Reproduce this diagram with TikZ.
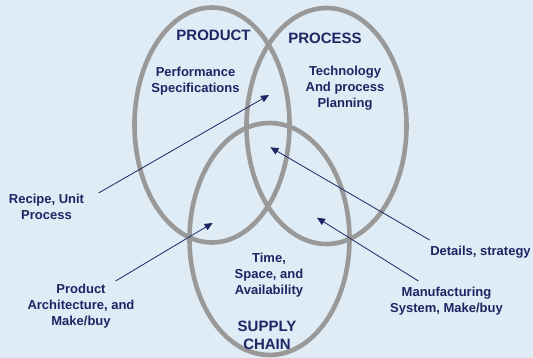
\documentclass[tikz,border=0pt]{standalone}
\usepackage{fontspec}
\setmainfont{Liberation Sans}
\usetikzlibrary{shapes.geometric,arrows.meta}
\definecolor{navy}{RGB}{27,38,99}
\definecolor{ringgray}{RGB}{153,153,153}
\definecolor{bgblue}{RGB}{223,235,245}
\tikzset{ring/.style={ellipse,draw=ringgray,line width=4.6pt,inner sep=0pt},
  lab/.style={text=navy,font=\bfseries\fontsize{13}{16}\selectfont,align=center,inner sep=0pt},
  title/.style={text=navy,font=\bfseries\fontsize{15}{18}\selectfont,align=center,inner sep=0pt},
  arr/.style={draw=navy,line width=0.8pt,-{Triangle[length=8pt,width=7pt]}}}
\begin{document}
\begin{tikzpicture}[x=1pt,y=-1pt]
\fill[bgblue](0,0)rectangle(533,358);
\useasboundingbox(0,0)rectangle(533,358);
% the three circles
\node[ring,minimum width=155pt,minimum height=235pt](product)at(212,125){};
\node[ring,minimum width=160pt,minimum height=236pt](process)at(326.5,126){};
\node[ring,minimum width=160pt,minimum height=232pt](supply)at(269.5,239){};
% titles and contents
\node[title](producttitle)at(213.5,35){PRODUCT};
\node[title](processtitle)at(325,38.5){PROCESS};
\node[title](supplytitle)at(267,335.5){SUPPLY\\CHAIN};
\node[lab](perf)at(195.5,81){Performance\\Specifications};
\node[lab](tech)at(345,88){Technology\\And process\\Planning};
\node[lab](time)at(269,275){Time,\\Space, and\\Availability};
% outside labels
\node[lab](recipe)at(46.5,207){Recipe, Unit\\Process};
\node[lab](arch)at(81,306){Product\\Architecture, and\\Make/buy};
\node[lab](details)at(480.5,252.5){Details, strategy};
\node[lab](manuf)at(446.5,301){Manufacturing\\System, Make/buy};
% arrows
\coordinate(recipe-t)at(98.6,193); \coordinate(pp)at(269,95);
\coordinate(details-t)at(429.6,240); \coordinate(all)at(270.4,147.3);
\coordinate(arch-t)at(115.6,281); \coordinate(ps)at(212.6,223);
\coordinate(manuf-t)at(418.4,281); \coordinate(cs)at(317,217.7);
\foreach \a/\b in {recipe-t/pp,details-t/all,arch-t/ps,manuf-t/cs}{\draw[arr](\a)--(\b);}
\end{tikzpicture}
\end{document}
